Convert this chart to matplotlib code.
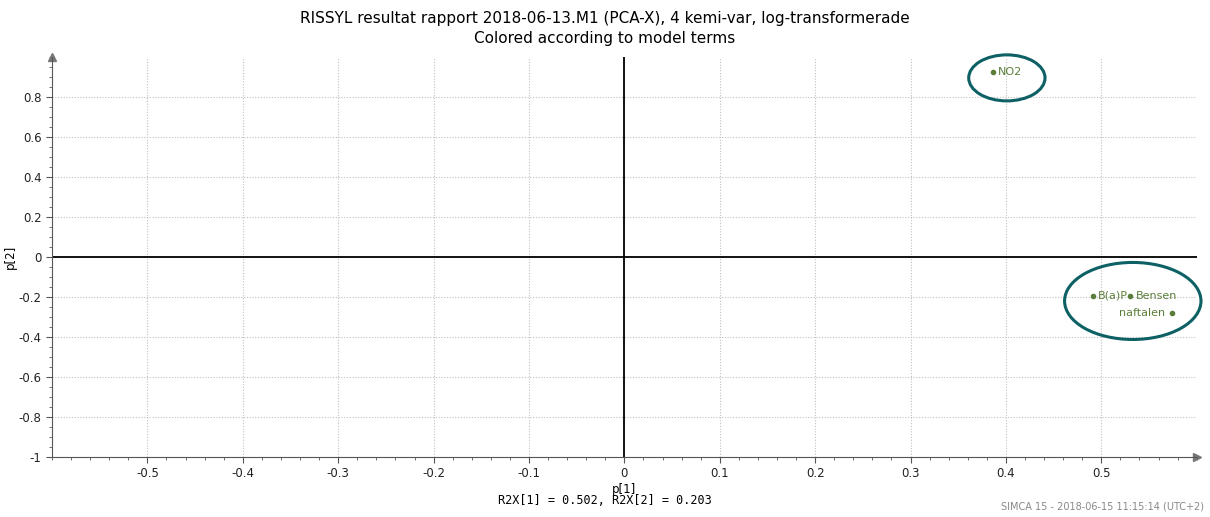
import matplotlib
matplotlib.use('Agg')
import matplotlib.pyplot as plt
from matplotlib.patches import Ellipse

# loadings p[1], p[2]
names = ['NO2', 'B(a)P', 'Bensen', 'naftalen']
p1 = [0.386, 0.491, 0.530, 0.574]
p2 = [0.925, -0.195, -0.195, -0.280]

fig = plt.figure(figsize=(12.1, 5.17), dpi=100)
ax = fig.add_axes([0.043, 0.116, 0.946, 0.774])

ax.set_xlim(-0.6, 0.6)
ax.set_ylim(-1, 1)

ax.set_xticks([-0.5, -0.4, -0.3, -0.2, -0.1, 0, 0.1, 0.2, 0.3, 0.4, 0.5])
ax.set_xticklabels(['-0.5', '-0.4', '-0.3', '-0.2', '-0.1', '0', '0.1', '0.2', '0.3', '0.4', '0.5'])
ax.set_yticks([-1, -0.8, -0.6, -0.4, -0.2, 0, 0.2, 0.4, 0.6, 0.8])
ax.set_yticklabels(['-1', '-0.8', '-0.6', '-0.4', '-0.2', '0', '0.2', '0.4', '0.6', '0.8'])
ax.set_xticks([i / 50 - 0.6 for i in range(61)], minor=True)
ax.set_yticks([i / 20 - 1 for i in range(41)], minor=True)

ax.grid(True, which='major', color='#c0c0c0', linestyle=(0, (1, 1.5)), linewidth=0.8)
for s in ['top', 'right']:
    ax.spines[s].set_visible(False)
ax.spines['left'].set_color('#555555')
ax.spines['bottom'].set_color('#555555')
ax.tick_params(which='major', length=4, color='#555555', labelsize=8.5, labelcolor='#222222')
ax.tick_params(which='minor', length=2, color='#555555')

# arrows on axes
ax.plot(1, 0, '>', color='#777777', markersize=6, transform=ax.transAxes, clip_on=False)
ax.plot(0, 1, '^', color='#777777', markersize=6, transform=ax.transAxes, clip_on=False)

ax.axhline(0, color='black', linewidth=1.3)
ax.axvline(0, color='black', linewidth=1.3)

ax.plot(p1, p2, 'o', color='#5b7d3a', markersize=3, linestyle='none', zorder=4)
ax.annotate(names[0], (p1[0], p2[0]), xytext=(4, 0), textcoords='offset points',
            va='center', ha='left', color='#5b7d3a', fontsize=8)
ax.annotate(names[1], (p1[1], p2[1]), xytext=(4, 0), textcoords='offset points',
            va='center', ha='left', color='#5b7d3a', fontsize=8)
ax.annotate(names[2], (p1[2], p2[2]), xytext=(4, 0), textcoords='offset points',
            va='center', ha='left', color='#5b7d3a', fontsize=8)
ax.annotate(names[3], (p1[3], p2[3]), xytext=(-5, 0), textcoords='offset points',
            va='center', ha='right', color='#5b7d3a', fontsize=8)

ax.add_patch(Ellipse((0.401, 0.895), 0.080, 0.23, fill=False, edgecolor='#0d6064',
                     linewidth=2.2, clip_on=False, zorder=3))
ax.add_patch(Ellipse((0.533, -0.22), 0.143, 0.385, fill=False, edgecolor='#0d6064',
                     linewidth=2.2, clip_on=False, zorder=3))

ax.set_ylabel('p[2]', fontsize=8.5)
ax.yaxis.set_label_coords(-0.031, 0.5)
ax.set_xlabel('p[1]', fontsize=8.5, labelpad=2)
fig.text(0.5, 0.025, 'R2X[1] = 0.502, R2X[2] = 0.203', ha='center', fontsize=8.5, family='DejaVu Sans Mono')
fig.text(0.5, 0.965, 'RISSYL resultat rapport 2018-06-13.M1 (PCA-X), 4 kemi-var, log-transformerade',
         ha='center', va='center', fontsize=11)
fig.text(0.5, 0.925, 'Colored according to model terms', ha='center', va='center', fontsize=11)
fig.text(0.995, 0.01, 'SIMCA 15 - 2018-06-15 11:15:14 (UTC+2)', ha='right', va='bottom', fontsize=7, color='#888888')

plt.savefig('out.png', dpi=100)
